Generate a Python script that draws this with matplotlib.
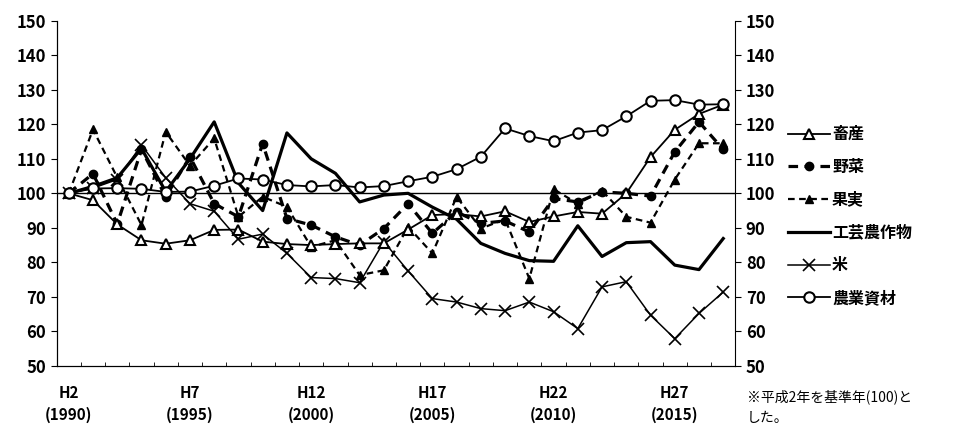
import matplotlib.pyplot as plt
import numpy as np

plt.rcParams['font.family'] = ['Noto Sans CJK JP', 'DejaVu Sans']

years = list(range(1990, 2018))
tick_labels = ["H2\n(1990)", "H7\n(1995)", "H12\n(2000)", "H17\n(2005)", "H22\n(2010)", "H27\n(2015)"]

chikusan = [100, 98, 91, 86.4, 85.4, 86.4, 89.4, 89.5, 86, 85.3, 85, 85.3, 85.5, 85.5,
            89.5, 93.7, 94, 93.3, 94.8, 91.7, 93.3, 94.6, 94.1, 100, 110.5, 118.4, 123, 125.7]
yasai = [100, 105.7, 91.1, 112.7, 99, 110.6, 97, 93.2, 114.4, 92.7, 90.8, 87.4, 85, 89.8,
         97, 88.4, 94.6, 91.3, 92, 88.8, 98.5, 97.5, 100.4, 100, 99.2, 112, 120.7, 112.7]
kajitsu = [100, 118.5, 104.6, 90.8, 117.8, 108, 115.9, 93.2, 99, 96.1, 84.5, 86.4, 76.3, 77.7,
           90.3, 82.6, 99, 89.8, 92.5, 75.3, 101.2, 97, 100.8, 93.2, 91.5, 104, 114.5, 114.5]
kougei = [100, 102, 104.5, 113, 100.5, 110, 120.7, 103, 95, 117.5, 110, 105.8, 97.5, 99.5,
          100, 96, 92.5, 85.5, 82.6, 80.5, 80.3, 90.6, 81.7, 85.7, 86, 79.2, 77.9, 86.9]
kome = [100, 101.5, 104, 114, 104.5, 97, 94.8, 86.7, 88.2, 82.6, 75.6, 75.3, 74.1, 86,
        77.5, 69.5, 68.5, 66.6, 66, 68.5, 65.7, 60.8, 72.9, 74.4, 64.7, 57.9, 65.2, 71.4]
shizai = [100, 101.4, 101.5, 101.3, 100.4, 100.5, 102.2, 104.3, 104, 102.4, 102, 102.4, 101.7,
          102.1, 103.5, 104.8, 107, 110.6, 118.8, 116.6, 115.1, 117.6, 118.3, 122.3, 126.8, 127,
          125.7, 125.8]

fig = plt.figure(figsize=(9.6, 4.32), dpi=100)
ax = fig.add_axes([0.059, 0.153, 0.707, 0.799])
x = np.arange(len(years))

ax.axhline(100, color="black", linewidth=1.0, zorder=1)
ax.plot(x, kome, color="black", linewidth=1.1, marker="x", markersize=8, markeredgewidth=1.2, label="米", zorder=3)
ax.plot(x, kougei, color="black", linewidth=2.3, label="工芸農作物", zorder=3)
ax.plot(x, kajitsu, color="black", linewidth=1.6, linestyle=(0, (3, 2)), marker="^", markersize=6,
        label="果実", zorder=4)
ax.plot(x, yasai, color="black", linewidth=2.3, linestyle=(0, (3, 2)), marker="o", markersize=6,
        label="野菜", zorder=4)
ax.plot(x, chikusan, color="black", linewidth=1.3, marker="^", markersize=7, markerfacecolor="white",
        markeredgewidth=1.5, label="畜産", zorder=5)
ax.plot(x, shizai, color="black", linewidth=1.3, marker="o", markersize=7.5, markerfacecolor="white",
        markeredgewidth=1.5, label="農業資材", zorder=5)

ax.set_xlim(-0.5, len(years) - 0.5)
ax.set_ylim(50, 150)
ax.set_yticks(range(50, 151, 10))
ax.set_xticks(range(0, len(years), 5))
ax.set_xticklabels(tick_labels, linespacing=1.45)
ax.set_xticks(np.arange(-0.5, len(years), 1), minor=True)
ax.tick_params(axis="x", which="major", length=0, labelsize=11, pad=14)
ax.tick_params(axis="x", which="minor", length=3, direction="in")
ax.tick_params(axis="y", labelsize=12, length=4, direction="out")
for lab in ax.get_yticklabels() + ax.get_xticklabels():
    lab.set_fontweight("bold")
ax.spines["top"].set_visible(False)
ax.spines["right"].set_visible(False)

ax2 = ax.twinx()
ax2.set_ylim(50, 150)
ax2.set_yticks(range(50, 151, 10))
ax2.tick_params(axis="y", labelsize=12, length=4, direction="out")
ax2.spines["top"].set_visible(False)
for lab in ax2.get_yticklabels():
    lab.set_fontweight("bold")

handles, labels = ax.get_legend_handles_labels()
order = ["畜産", "野菜", "果実", "工芸農作物", "米", "農業資材"]
hmap = dict(zip(labels, handles))
leg = fig.legend([hmap[k] for k in order], order, loc="upper left", bbox_to_anchor=(0.821, 0.708),
                 frameon=False, handlelength=2.6, handletextpad=0.15, labelspacing=1.05,
                 borderaxespad=0, borderpad=0, prop={"weight": "bold", "size": 11.5})

fig.text(0.778, 0.058, "※平成2年を基準年(100)と\nした。", fontsize=10, ha="left", va="center",
         linespacing=1.6)

fig.savefig("out.png", dpi=100)
